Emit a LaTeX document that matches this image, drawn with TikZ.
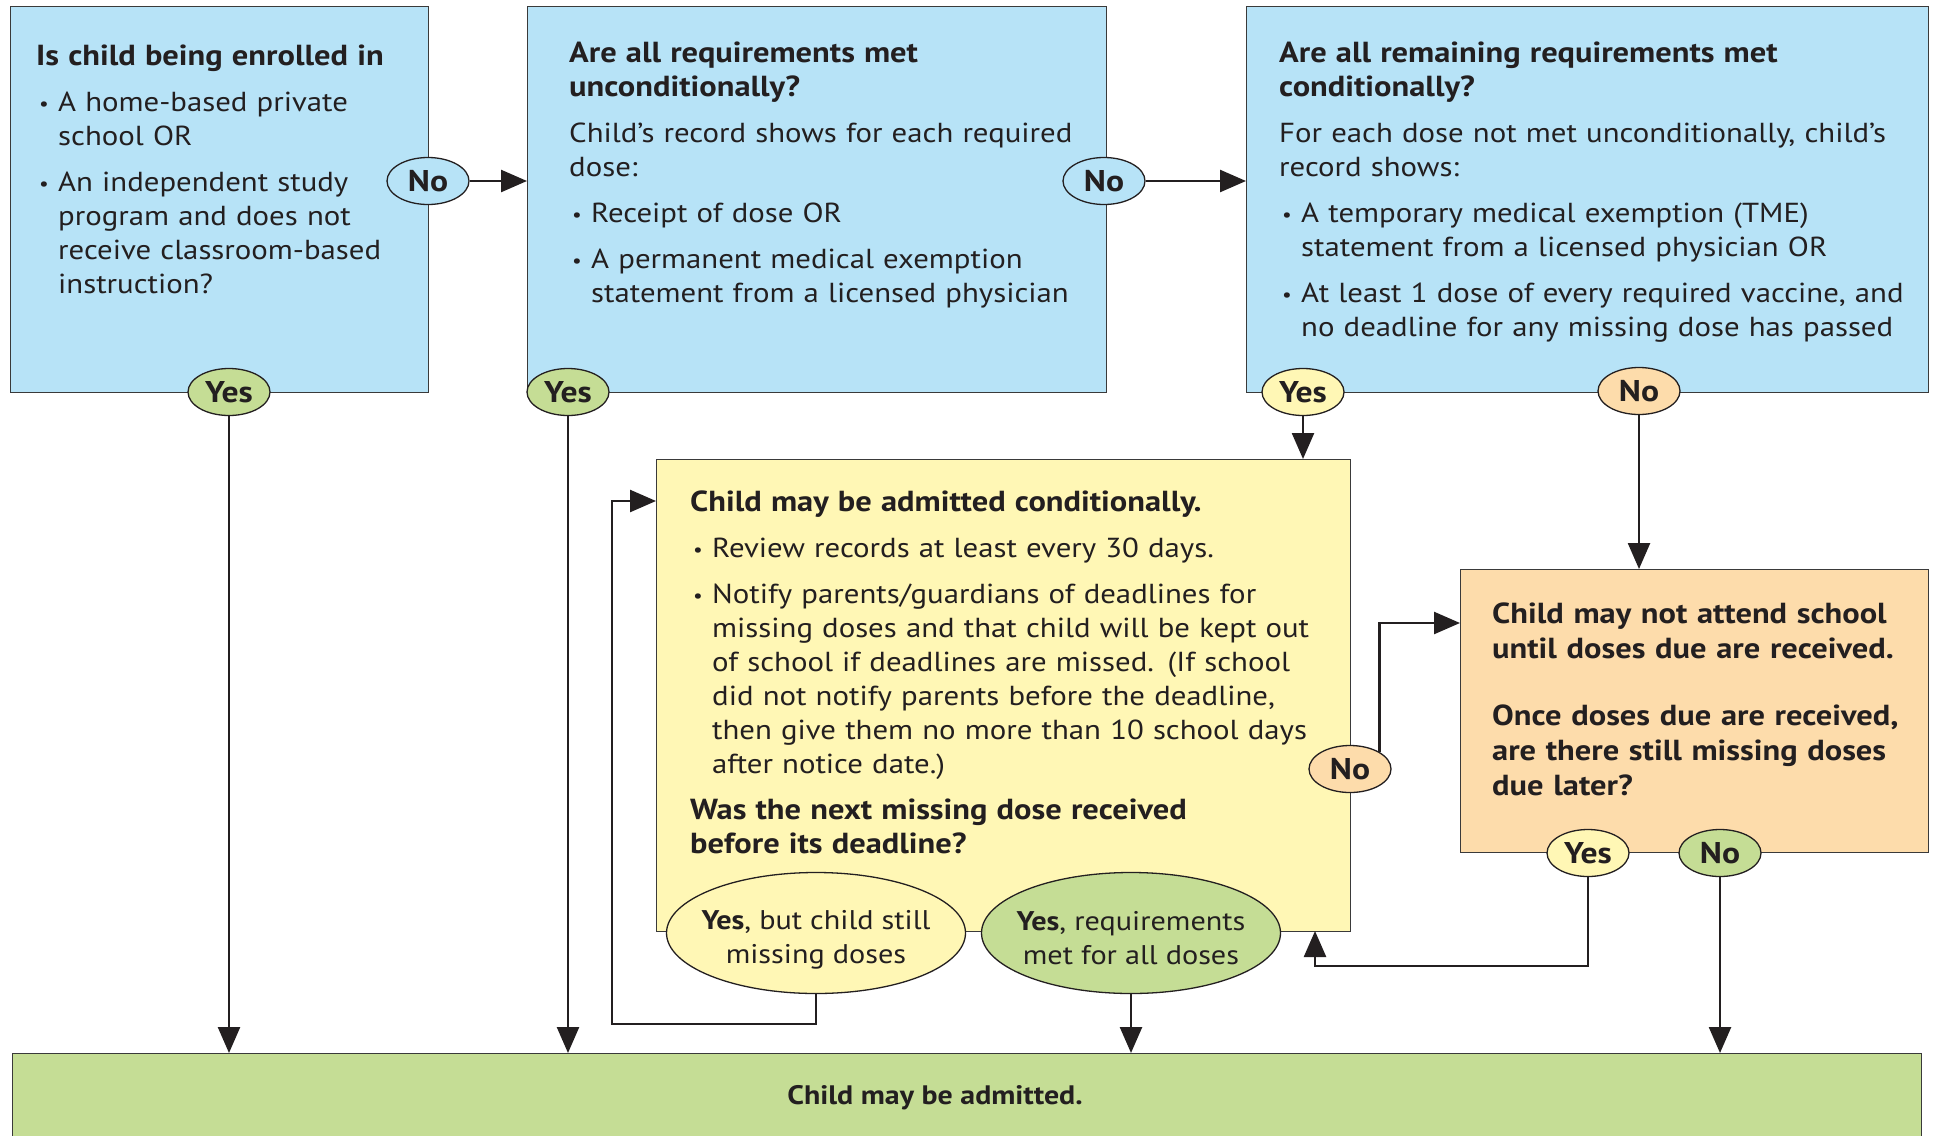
\documentclass[tikz,border=0pt]{standalone}
\usepackage{fontspec}
\setmainfont{PT Sans}[FakeStretch=1.12]
\usetikzlibrary{arrows.meta,shapes.geometric,calc}
\definecolor{bluebox}{HTML}{B7E3F7}
\definecolor{yellowbox}{HTML}{FFF7B5}
\definecolor{orangebox}{HTML}{FDDCAB}
\definecolor{greenbox}{HTML}{C5DD95}
\definecolor{ink}{HTML}{231F20}
\definecolor{edge}{HTML}{3A3A3A}
\setlength\parindent{0pt}
\newcommand\bodyfont{\fontsize{27.5}{34}\selectfont}
\newcommand\ttl[1]{{\fontsize{29}{34}\selectfont\bfseries #1}}
\newcommand\bul[1]{\par\vspace{12pt}\hangindent=22pt\hangafter=1\noindent\hspace*{3pt}\makebox[19pt][l]{\raisebox{1pt}{\scalebox{0.7}{\textbullet}}}#1\par}
\tikzset{
  box/.style={draw=edge, line width=1.3pt, inner sep=0pt, anchor=north west},
  txt/.style={anchor=north west, inner sep=0pt, align=left, text=ink, font=\bodyfont},
  oval/.style={ellipse, draw=ink, line width=1.3pt, minimum width=82pt, minimum height=47pt, inner sep=0pt, text=ink, font=\fontsize{30}{32}\selectfont\bfseries},
  bigoval/.style={ellipse, draw=ink, line width=1.3pt, minimum width=299pt, minimum height=121pt, inner sep=0pt},
  ovaltext/.style={align=center, inner sep=0pt, text=ink, font=\fontsize{27}{34}\selectfont},
  arr/.style={draw=ink, line width=2.5pt, -{Triangle[length=26pt,width=22pt]}},
}
\begin{document}
\begin{tikzpicture}[x=1pt, y=-1pt]
\clip (0,0) rectangle (1935,1135);
\fill[white] (0,0) rectangle (1935,1135);
% boxes
\node[box, fill=bluebox, minimum width=418pt, minimum height=386pt] (b1) at (10,6) {};
\node[box, fill=bluebox, minimum width=579pt, minimum height=386pt] (b2) at (527,6) {};
\node[box, fill=bluebox, minimum width=682pt, minimum height=386pt] (b3) at (1246,6) {};
\node[box, fill=yellowbox, minimum width=694pt, minimum height=472pt] (yb) at (656,459) {};
\node[box, fill=orangebox, minimum width=468pt, minimum height=283pt] (ob) at (1460,569) {};
\node[box, fill=greenbox, minimum width=1909pt, minimum height=140pt] (adm) at (12,1053) {};
% texts
\node[txt, text width=400pt] (t1) at (36,41.2) {\ttl{\strut Is child being enrolled in}
\bul{A home-based private\newline school OR}
\bul{An independent study\newline program and does not\newline receive classroom-based\newline instruction?}};
\node[txt, text width=560pt] (t2) at (569,38.2) {\ttl{\strut Are all requirements met\newline unconditionally?}\par\vspace{12pt}Child’s record shows for each required\newline dose:%
\bul{Receipt of dose OR}%
\bul{A permanent medical exemption\newline statement from a licensed physician}};
\node[txt, text width=660pt] (t3) at (1279,38.2) {\ttl{\strut Are all remaining requirements met\newline conditionally?}\par\vspace{12pt}For each dose not met unconditionally, child’s\newline record shows:%
\bul{A temporary medical exemption (TME)\newline statement from a licensed physician OR}%
\bul{At least 1 dose of every required vaccine, and\newline no deadline for any missing dose has passed}};
\node[txt, text width=680pt] (t4) at (690,487.2) {\ttl{\strut Child may be admitted conditionally.}%
\bul{Review records at least every 30 days.}%
\bul{Notify parents/guardians of deadlines for\newline missing doses and that child will be kept out\newline of school if deadlines are missed. (If school\newline did not notify parents before the deadline,\newline then give them no more than 10 school days\newline after notice date.)}%
\par\vspace{12pt}\ttl{Was the next missing dose received\newline before its deadline?}};
\node[txt, text width=460pt, font=\fontsize{29}{35}\selectfont\bfseries] (t5) at (1492,598.5) {\strut Child may not attend school\newline until doses due are received.\par\vspace{32pt}Once doses due are received,\newline are there still missing doses\newline due later?};
\node[text=ink, inner sep=0pt, font=\fontsize{26.7}{34}\selectfont\bfseries] (t6) at (935,1098) {Child may be admitted.};
% helper coordinates
\coordinate (orin) at (1460,623);
\coordinate (ybin) at (1315,931);
\coordinate (loopbl) at (612,1024);
\coordinate (yin) at (656,501);
% ovals
\node[oval, fill=bluebox] (no1) at (428,181) {No};
\node[oval, fill=bluebox] (no2) at (1104,181) {No};
\node[oval, fill=greenbox] (yes1) at (229,392) {Yes};
\node[oval, fill=greenbox] (yes2) at (568,392) {Yes};
\node[oval, fill=yellowbox] (yes3) at (1303,392) {Yes};
\node[oval, fill=orangebox] (no3) at (1639,391) {No};
\node[oval, fill=orangebox] (no4) at (1350,769) {No};
\node[oval, fill=yellowbox] (yes5) at (1588,853) {Yes};
\node[oval, fill=greenbox] (no5) at (1720,853) {No};
\node[bigoval, fill=yellowbox] (e1) at (816,933) {};
\node[bigoval, fill=greenbox] (e2) at (1131,933) {};
\node[ovaltext] (e1t) at (816,940) {\textbf{Yes}, but child still\\missing doses};
\node[ovaltext] (e2t) at (1131,938) {\textbf{Yes}, requirements\\met for all doses};
% connectors
\draw[arr] (no1.east) -- (no1.east -| b2.west);
\draw[arr] (no2.east) -- (no2.east -| b3.west);
\draw[arr] (yes1.south) -- (yes1.south |- adm.north);
\draw[arr] (yes2.south) -- (yes2.south |- adm.north);
\draw[arr] (yes3.south) -- (yes3.south |- yb.north);
\draw[arr] (no3.south) -- (no3.south |- ob.north);
\draw[arr] (no4.north east) |- (orin);
\draw[arr] (yes5.south) -- ++(0,89) -| (ybin);
\draw[arr] (no5.south) -- (no5.south |- adm.north);
\draw[arr] (e1.south) |- (loopbl) |- (yin);
\draw[arr] (e2.south) -- (e2.south |- adm.north);
\end{tikzpicture}
\end{document}
